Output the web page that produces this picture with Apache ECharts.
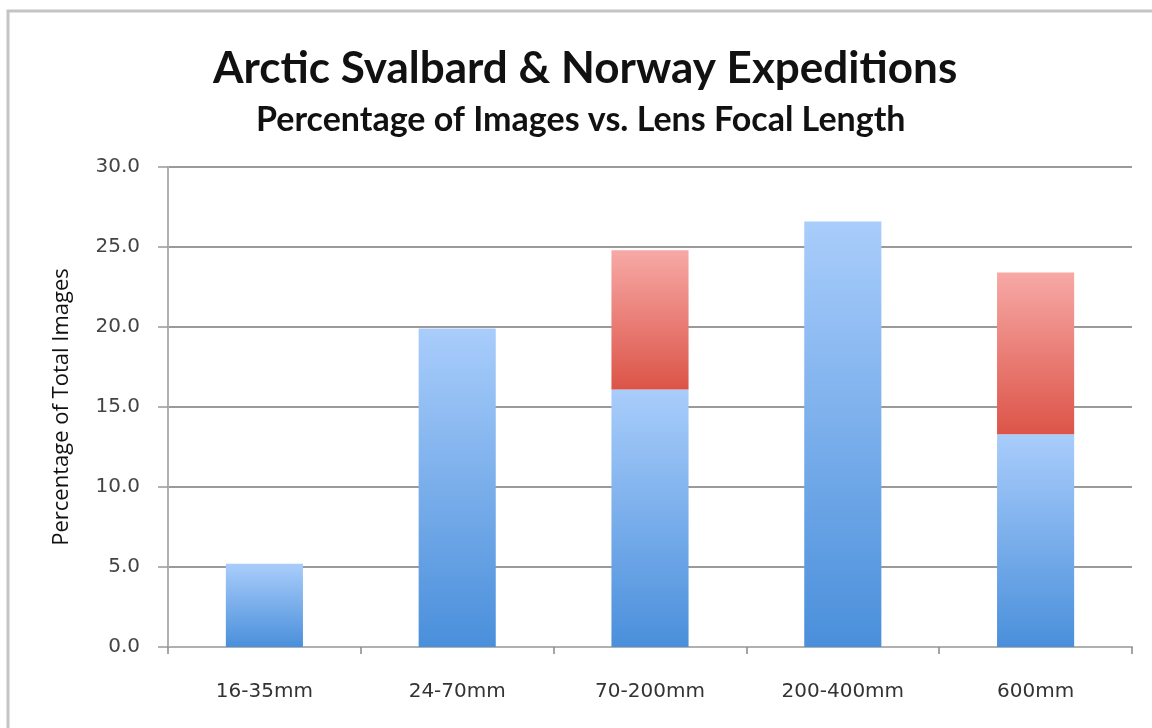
<!DOCTYPE html>
<html>
<head>
<meta charset="utf-8">
<script src="https://cdn.jsdelivr.net/npm/echarts@6/dist/echarts.min.js"></script>
<style>
  html, body { margin: 0; padding: 0; background: #fff; }
  #chart { width: 1152px; height: 728px; }
</style>
</head>
<body>
<div id="chart"></div>
<script>
// Lens focal length buckets
const categories = ['16-35mm', '24-70mm', '70-200mm', '200-400mm', '600mm'];
// Share of images (%) — base portion of each bar
const baseShare = [5.2, 19.9, 16.1, 26.6, 13.3];
// Share of images (%) — stacked upper portion (with extender)
const extraShare = [null, null, 8.7, null, 10.1];
// Value axis ticks
const yMin = 0, yMax = 30, yStep = 5;

const chart = echarts.init(document.getElementById('chart'), null, { renderer: 'canvas' });

const blueFill = new echarts.graphic.LinearGradient(0, 0, 0, 1, [
  { offset: 0, color: '#a9cdfb' },
  { offset: 1, color: '#4a8fdb' }
]);
const redFill = new echarts.graphic.LinearGradient(0, 0, 0, 1, [
  { offset: 0, color: '#f7a9a6' },
  { offset: 1, color: '#dc5448' }
]);

const labelFont = 'DejaVu Sans, Verdana, sans-serif';
const titleFont = 'Lato, "Open Sans", sans-serif';

chart.setOption({
  backgroundColor: '#ffffff',
  animation: false,
  graphic: [{
    type: 'rect',
    shape: { x: 8, y: 11, width: 1160, height: 740 },
    style: { fill: 'none', stroke: '#c4c4c4', lineWidth: 3 },
    silent: true
  }],
  title: [{
    text: 'Arctic Svalbard & Norway Expeditions',
    left: 208,
    top: 42,
    textStyle: { fontFamily: titleFont, fontWeight: 'bold', fontSize: 44, color: '#111' }
  }, {
    text: 'Percentage of Images vs. Lens Focal Length',
    left: 251,
    top: 98,
    textStyle: { fontFamily: titleFont, fontWeight: 'bold', fontSize: 34, color: '#111' }
  }],
  grid: { left: 168, right: 20, top: 167, bottom: 81, containLabel: false },
  xAxis: {
    type: 'category',
    data: categories,
    axisLine: { lineStyle: { color: '#b0b0b0', width: 2 } },
    axisTick: { show: true, length: 7, lineStyle: { color: '#888', width: 1.5 } },
    axisLabel: { margin: 35, fontFamily: labelFont, fontSize: 20, color: '#333' },
    splitLine: { show: false }
  },
  yAxis: {
    type: 'value',
    min: yMin,
    max: yMax,
    interval: yStep,
    name: 'Percentage of Total Images',
    nameLocation: 'middle',
    nameGap: 95,
    nameTextStyle: { fontFamily: '"Open Sans", Lato, sans-serif', fontSize: 22, color: '#111' },
    axisLine: { show: true, lineStyle: { color: '#b0b0b0', width: 2 } },
    axisTick: { show: true, length: 10, lineStyle: { color: '#999', width: 1.5 } },
    axisLabel: {
      margin: 28,
      fontFamily: labelFont,
      fontSize: 20,
      color: '#444',
      formatter: v => v.toFixed(1)
    },
    splitLine: { show: true, lineStyle: { color: '#9a9a9a', width: 2 } }
  },
  series: [{
    name: 'base',
    type: 'bar',
    stack: 'share',
    barWidth: '40%',
    data: baseShare,
    itemStyle: { color: blueFill }
  }, {
    name: 'extra',
    type: 'bar',
    stack: 'share',
    barWidth: '40%',
    data: extraShare,
    itemStyle: { color: redFill }
  }]
});
</script>
</body>
</html>
